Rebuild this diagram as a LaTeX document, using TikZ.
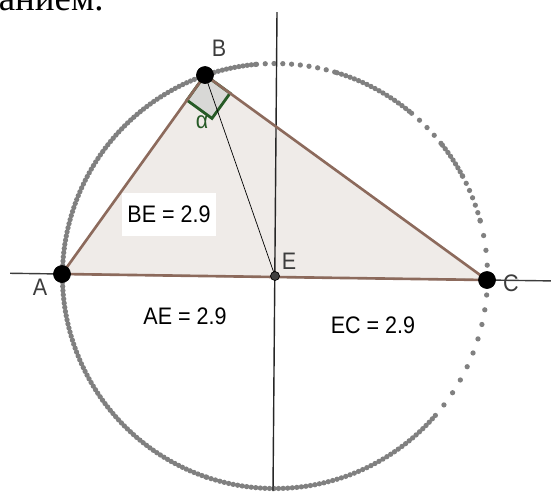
\documentclass[tikz,border=0pt]{standalone}
\usepackage{fontspec}
\setmainfont{Liberation Sans}
\newfontfamily\textserif{Liberation Serif}
\newfontfamily\geofont[FakeStretch=0.9]{Liberation Sans}
\usetikzlibrary{calc}

\definecolor{edgebrown}{RGB}{140,106,92}
\definecolor{trifill}{RGB}{239,235,232}
\definecolor{anglegreen}{RGB}{38,90,38}
\definecolor{anglefill}{RGB}{216,216,214}
\definecolor{locusgray}{RGB}{128,128,128}
\definecolor{labelgray}{RGB}{60,60,60}

\begin{document}
\begin{tikzpicture}[x=0.02cm, y=-0.02cm,
    ptlabel/.style={labelgray, font=\geofont\fontsize{13.6}{15}\selectfont, inner sep=0pt},
    lenlabel/.style={black, font=\geofont\fontsize{13.6}{15}\selectfont},
    locus/.style={locusgray, line width=3pt, line cap=round}]

    \useasboundingbox (0,0) rectangle (551,491);

    \coordinate (A) at (62, 274);
    \coordinate (B) at (205, 75);
    \coordinate (C) at (487, 280);
    \coordinate (E) at (275, 276);
    \coordinate (Vtop) at (277, 12);
    \coordinate (Vbot) at (273, 491);

    % cut-off line of text above the figure
    \node (txt) [anchor=base east, inner sep=0pt, font=\textserif\fontsize{21}{24}\selectfont] at (104, 10) {анием.};

    % circle through A, B, C (drawn as points)
    \draw[locus, dash pattern=on 0pt off 2.4pt] (E) ++(109:212.5) arc (109:265:212.5);
    \draw[locus, dash pattern=on 0pt off 5pt] (E) ++(265:212.5) arc (265:287:212.5);
    \draw[locus, dash pattern=on 0pt off 2.6pt] (E) ++(287:212.5) arc (287:310:212.5);
    \draw[locus, dash pattern=on 0pt off 6pt] (E) ++(310:212.5) arc (310:322:212.5);
    \draw[locus, dash pattern=on 0pt off 2.6pt] (E) ++(322:212.5) arc (322:332:212.5);
    \draw[locus, dash pattern=on 0pt off 4.5pt] (E) ++(332:212.5) arc (332:345:212.5);
    \draw[locus, dash pattern=on 0pt off 8.5pt] (E) ++(345:212.5) arc (345:401:212.5);
    \draw[locus, dash pattern=on 0pt off 2.6pt] (E) ++(41:212.5) arc (41:109:212.5);

    % triangle
    \fill[trifill] (A) -- (B) -- (C) -- cycle;

    % lines through A, C and through E
    \draw[labelgray, thick, shorten <=-1.04cm, shorten >=-1.28cm] (A) -- (C);
    \draw[black!85, thick] (Vtop) -- (Vbot);

    % right angle at B
    \coordinate (Ba) at ($(B)!0.62cm!(A)$);
    \coordinate (Bc) at ($(B)!0.62cm!(C)$);
    \coordinate (Bq) at ($(Ba)+(Bc)-(B)$);
    \filldraw[anglegreen, fill=anglefill, line width=1.6pt] (B) -- (Ba) -- (Bq) -- (Bc) -- cycle;
    \node (alpha) [anglegreen, font=\geofont\fontsize{13.6}{15}\selectfont] at (202, 122) {α};

    \draw[edgebrown, line width=1.5pt, line join=round] (A) -- (B) -- (C) -- cycle;
    \draw[black] (B) -- (E);

    \filldraw[black] (A) circle (0.17cm);
    \filldraw[black] (B) circle (0.17cm);
    \filldraw[black] (C) circle (0.17cm);
    \filldraw[black!75, draw=black] (E) circle (0.09cm);

    \node (labA) [ptlabel] at (40, 287) {A};
    \node (labB) [ptlabel] at (219, 48) {B};
    \node (labC) [ptlabel] at (511, 283) {C};
    \node (labE) [ptlabel] at (289, 261) {E};

    \node (BEval) [lenlabel, fill=white, minimum width=1.88cm, minimum height=0.86cm] at (169, 214.5) {BE = 2.9};
    \node (AEval) [lenlabel] at (185, 316) {AE = 2.9};
    \node (ECval) [lenlabel] at (373, 325) {EC = 2.9};

\end{tikzpicture}
\end{document}
